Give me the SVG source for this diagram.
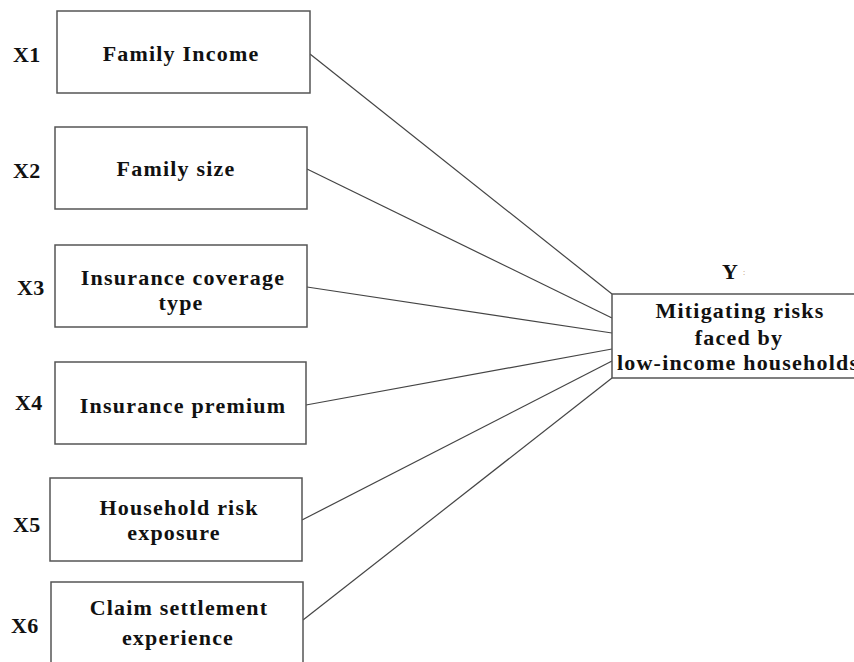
<svg xmlns="http://www.w3.org/2000/svg" width="854" height="662" viewBox="0 0 854 662">
<style>
.box{fill:#fff;stroke:#555;stroke-width:1.5}
.t{font-family:"Liberation Serif","Times New Roman",serif;font-weight:bold;font-size:22px;letter-spacing:1.2px;fill:#111;text-anchor:middle}
.lbl{font-family:"Liberation Serif","Times New Roman",serif;font-weight:bold;font-size:22px;letter-spacing:0.3px;fill:#111}
.c{stroke:#444;stroke-width:1.2;fill:none}
</style>
<rect width="854" height="662" fill="#fff"/>
<g id="connectors">
<line class="c" x1="310" y1="54" x2="612" y2="294"/>
<line class="c" x1="307" y1="169" x2="612" y2="318"/>
<line class="c" x1="307" y1="287" x2="612" y2="333"/>
<line class="c" x1="306" y1="405" x2="612" y2="349"/>
<line class="c" x1="302" y1="520" x2="612" y2="361"/>
<line class="c" x1="303" y1="620" x2="612" y2="378"/>
</g>
<g id="x1">
<text class="lbl" x="13" y="62">X1</text>
<rect class="box" x="57" y="11" width="253" height="82"/>
<text class="t" x="181" y="61">Family Income</text>
</g>
<g id="x2">
<text class="lbl" x="13" y="178">X2</text>
<rect class="box" x="55" y="127" width="252" height="82"/>
<text class="t" x="176" y="176">Family size</text>
</g>
<g id="x3">
<text class="lbl" x="17" y="295">X3</text>
<rect class="box" x="55" y="245" width="252" height="82"/>
<text class="t" x="183" y="285">Insurance coverage</text>
<text class="t" x="181" y="310">type</text>
</g>
<g id="x4">
<text class="lbl" x="15" y="410">X4</text>
<rect class="box" x="55" y="362" width="251" height="82"/>
<text class="t" x="183" y="413">Insurance premium</text>
</g>
<g id="x5">
<text class="lbl" x="13" y="532">X5</text>
<rect class="box" x="50" y="478" width="252" height="83"/>
<text class="t" x="179" y="515">Household risk</text>
<text class="t" x="174" y="540">exposure</text>
</g>
<g id="x6">
<text class="lbl" x="11" y="633">X6</text>
<rect class="box" x="51" y="582" width="252" height="90"/>
<text class="t" x="179" y="615">Claim settlement</text>
<text class="t" x="178" y="645">experience</text>
</g>
<g id="y">
<text class="lbl" x="722" y="279">Y</text>
<text x="743" y="275" font-family="Liberation Serif, serif" font-size="8" fill="#b08050">:</text>
<rect class="box" x="612" y="294" width="260" height="84"/>
<text class="t" x="740" y="318">Mitigating risks</text>
<text class="t" x="739" y="345">faced by</text>
<text class="t" x="617" y="370" style="text-anchor:start">low-income households</text>
</g>
</svg>
